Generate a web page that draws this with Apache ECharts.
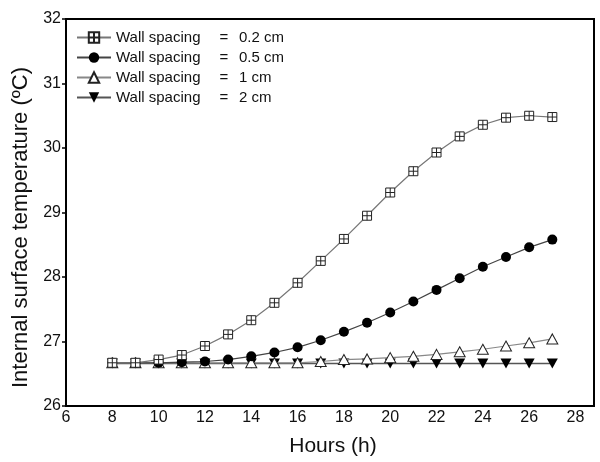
<!DOCTYPE html>
<html>
<head>
<meta charset="utf-8">
<script src="https://cdn.jsdelivr.net/npm/echarts@6/dist/echarts.min.js"></script>
<style>html,body{margin:0;padding:0;background:#fff}#c{width:600px;height:462px}</style>
</head>
<body>
<div id="c"></div>
<script>
const hours = [8,9,10,11,12,13,14,15,16,17,18,19,20,21,22,23,24,25,26,27];
const spacing02 = [26.67,26.67,26.72,26.79,26.93,27.11,27.33,27.60,27.91,28.25,28.59,28.95,29.31,29.64,29.93,30.18,30.36,30.47,30.50,30.48];
const spacing05 = [26.67,26.67,26.67,26.68,26.69,26.72,26.77,26.83,26.91,27.02,27.15,27.29,27.45,27.62,27.80,27.98,28.16,28.31,28.46,28.58];
const spacing1  = [26.67,26.67,26.67,26.67,26.67,26.67,26.67,26.67,26.67,26.69,26.72,26.73,26.75,26.77,26.80,26.84,26.88,26.93,26.98,27.04];
const spacing2  = [26.66,26.66,26.66,26.66,26.66,26.66,26.66,26.66,26.66,26.66,26.66,26.66,26.66,26.66,26.66,26.66,26.66,26.66,26.66,26.66];
const seriesNames = ['Wall spacing = 0.2 cm','Wall spacing = 0.5 cm','Wall spacing = 1 cm','Wall spacing = 2 cm'];
const xTicks = [6,8,10,12,14,16,18,20,22,24,26,28];
const yTicks = [26,27,28,29,30,31,32];

const pairs = arr => hours.map((h,i)=>[h,arr[i]]);
const font = '"Liberation Sans", Arial, sans-serif';
const chart = echarts.init(document.getElementById('c'), null, {renderer:'canvas'});
const sqCross = 'path://M0,0L10,0L10,10L0,10Z M5,0L5,10 M0,5L10,5';
const downTri = 'path://M0,0L10,0L5,9Z';
const rt = {fontFamily:font,fontSize:15,color:'#111',lineHeight:14};

chart.setOption({
  backgroundColor:'#fff',
  animation:false,
  grid:{left:66,right:6,top:19,bottom:49,show:true,borderColor:'#000',borderWidth:2,backgroundColor:'transparent'},
  legend:{
    orient:'vertical', left:71, top:25, itemWidth:34, itemHeight:13, itemGap:5,
    data:seriesNames,
    formatter: n => '{a|Wall spacing}{b|=}{c|' + n.split('= ')[1] + '}',
    textStyle:{fontFamily:font,fontSize:15,color:'#111',lineHeight:14,
      rich:{a:Object.assign({width:96},rt),
            b:Object.assign({width:24,align:'center'},rt),
            c:Object.assign({padding:[0,0,0,3]},rt)}}
  },
  xAxis:{
    type:'value', min:xTicks[0], max:28.8, interval:2,
    name:'Hours (h)', nameLocation:'middle', nameGap:30,
    nameTextStyle:{fontFamily:font,fontSize:21,color:'#111',padding:[0,0,0,6]},
    axisLine:{lineStyle:{color:'#000',width:2}},
    axisTick:{show:false},
    axisLabel:{fontFamily:font,fontSize:16,color:'#111',margin:4,
      formatter:v => xTicks.includes(v) ? String(v) : ''},
    splitLine:{show:false}
  },
  yAxis:{
    type:'value', min:yTicks[0], max:yTicks[yTicks.length-1], interval:1,
    name:'Internal surface temperature (ºC)', nameLocation:'middle', nameGap:33,
    nameTextStyle:{fontFamily:font,fontSize:22,color:'#111',padding:[0,30,0,0]},
    axisLine:{lineStyle:{color:'#000',width:2}},
    axisTick:{show:true,inside:false,length:4,lineStyle:{color:'#000',width:1.5}},
    axisLabel:{fontFamily:font,fontSize:16,color:'#111',margin:5},
    splitLine:{show:false}
  },
  series:[
    {name:seriesNames[0],type:'line',data:pairs(spacing02),symbol:sqCross,symbolSize:9,
     lineStyle:{color:'#777',width:1.2},itemStyle:{color:'#fff',borderColor:'#222',borderWidth:1},z:4},
    {name:seriesNames[1],type:'line',data:pairs(spacing05),symbol:'circle',symbolSize:10,
     lineStyle:{color:'#444',width:1.2},itemStyle:{color:'#000',borderColor:'#000',borderWidth:0},z:3},
    {name:seriesNames[2],type:'line',data:pairs(spacing1),symbol:'triangle',symbolSize:[11,10],
     lineStyle:{color:'#888',width:1.2},itemStyle:{color:'#fff',borderColor:'#222',borderWidth:1},z:2},
    {name:seriesNames[3],type:'line',data:pairs(spacing2),symbol:downTri,symbolSize:[11,10],
     lineStyle:{color:'#555',width:1.5},itemStyle:{color:'#000',borderColor:'#000',borderWidth:0},z:1}
  ]
});
</script>
</body>
</html>
